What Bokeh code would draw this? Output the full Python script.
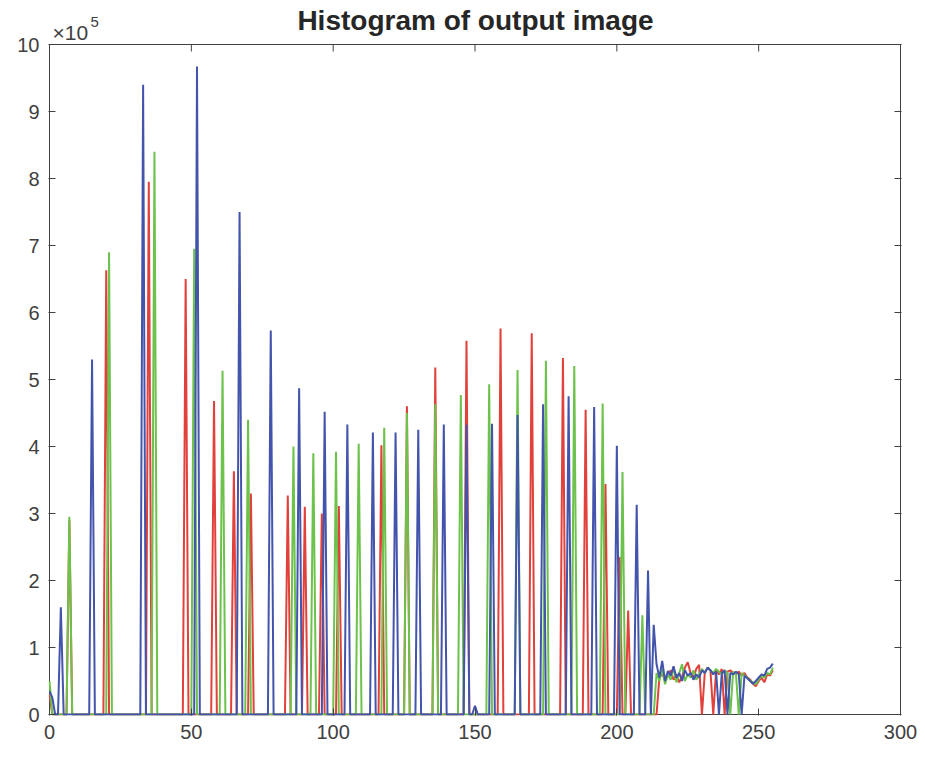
import numpy as np
from bokeh.plotting import figure
from bokeh.models import Range1d, LinearAxis, Label, FixedTicker
from bokeh.embed import file_html
from bokeh.resources import INLINE

# ---- data (counts in units of 1e5) ----
levels = list(range(256))

red_bins = [0, 7, 20, 35, 48, 58, 65, 71, 84, 90, 96, 102, 117, 126, 136, 147,
            159, 170, 181, 189, 196, 201, 204]
red_vals = [0.30, 2.90, 6.63, 7.95, 6.50, 4.68, 3.63, 3.30, 3.27, 3.10, 3.00, 3.11,
            4.02, 4.60, 5.18, 5.58, 5.76, 5.69, 5.32, 4.55, 3.44, 2.35, 1.55]
red_tail_start = 215
red_tail = [0.55, 0.62, 0.50, 0.58, 0.66, 0.52, 0.60, 0.48, 0.57, 0.70, 0.78, 0.62,
            0.55, 0.68, 0.74, 0.00, 0.62, 0.70, 0.65, 0.00, 0.66, 0.60, 0.68, 0.00,
            0.64, 0.66, 0.62, 0.60, 0.64, 0.58, 0.62, 0.55, 0.52, 0.46, 0.42, 0.50,
            0.55, 0.48, 0.60, 0.58, 0.66]

green_bins = [0, 7, 21, 37, 51, 61, 70, 86, 93, 101, 109, 118, 126, 136, 145, 155,
              165, 175, 185, 195, 202, 209]
green_vals = [0.50, 2.95, 6.90, 8.40, 6.95, 5.13, 4.40, 4.00, 3.90, 3.92, 4.04, 4.28,
              4.50, 4.63, 4.77, 4.93, 5.14, 5.28, 5.20, 4.64, 3.62, 1.48]
green_tail_start = 214
green_tail = [0.62, 0.50, 0.68, 0.45, 0.60, 0.52, 0.70, 0.48, 0.62, 0.75, 0.50, 0.60,
              0.55, 0.66, 0.52, 0.60, 0.68, 0.62, 0.70, 0.66, 0.62, 0.68, 0.64, 0.60,
              0.66, 0.62, 0.00, 0.64, 0.60, 0.00, 0.62, 0.58, 0.55, 0.50, 0.48, 0.45,
              0.52, 0.58, 0.55, 0.62, 0.60, 0.70]

blue_bins = [0, 1, 4, 15, 33, 52, 67, 78, 88, 97, 105, 114, 122, 130, 139, 147, 150,
             156, 165, 174, 183, 192, 200, 207, 211, 213]
blue_vals = [0.35, 0.25, 1.60, 5.30, 9.40, 9.67, 7.50, 5.73, 4.87, 4.52, 4.33, 4.21,
             4.21, 4.25, 4.33, 4.33, 0.13, 4.34, 4.47, 4.63, 4.75, 4.59, 4.01, 3.13,
             2.15, 1.34]
blue_tail_start = 214
blue_tail = [0.75, 0.55, 0.80, 0.50, 0.65, 0.58, 0.72, 0.55, 0.62, 0.50, 0.66, 0.58,
             0.62, 0.52, 0.60, 0.55, 0.66, 0.62, 0.70, 0.66, 0.60, 0.64, 0.00, 0.62,
             0.66, 0.00, 0.62, 0.60, 0.64, 0.60, 0.00, 0.58, 0.54, 0.50, 0.46, 0.50,
             0.55, 0.60, 0.58, 0.68, 0.70, 0.76]

x_ticks = [0, 50, 100, 150, 200, 250, 300]
y_ticks = [0, 1, 2, 3, 4, 5, 6, 7, 8, 9, 10]
title_text = "Histogram of output image"
exponent_text = "×10"
exponent_power = "5"


def build(bins, vals, tail_start, tail):
    h = np.zeros(len(levels))
    h[bins] = vals
    h[tail_start:tail_start + len(tail)] = tail
    return h


red_h = build(red_bins, red_vals, red_tail_start, red_tail)
green_h = build(green_bins, green_vals, green_tail_start, green_tail)
blue_h = build(blue_bins, blue_vals, blue_tail_start, blue_tail)

FONT = "Liberation Sans"
GREY = "#404040"

# ---- layout: the frame reaches the top of the canvas so that the title
# texts (Labels) are not clipped; the visible box is drawn at the axis limits.
BOX_W, BOX_H = 851, 670          # pixel size of the axes box
TOP_GAP = 44                     # pixels above the box
x_lo, x_hi = x_ticks[0], x_ticks[-1]
y_lo, y_hi = y_ticks[0], y_ticks[-1]
x_pad = (x_hi - x_lo) / BOX_W                 # one pixel in x units
y_px = BOX_H / (y_hi - y_lo)                  # pixels per y unit
y_pad = 1.0 / y_px
y_top = y_hi + TOP_GAP / y_px

p = figure(width=925, height=759, output_backend="svg", toolbar_location=None,
           x_range=Range1d(x_lo - x_pad, x_hi + x_pad),
           y_range=Range1d(y_lo - y_pad, y_top),
           min_border_left=48, min_border_right=24, min_border_top=0,
           min_border_bottom=44)
p.grid.visible = False
p.outline_line_color = None
p.background_fill_color = "white"
p.border_fill_color = "white"

# axes box and inward ticks on the top edge
p.quad(left=[x_lo], right=[x_hi], bottom=[y_lo], top=[y_hi],
       fill_color=None, line_color=GREY, line_width=1)
tick_len = 7 / y_px
p.segment(x0=x_ticks, y0=[y_hi] * len(x_ticks), x1=x_ticks,
          y1=[y_hi - tick_len] * len(x_ticks), line_color=GREY, line_width=1)

p.line(levels, red_h, line_color="#e2403a", line_width=2)
p.line(levels, green_h, line_color="#6cc24a", line_width=2)
p.line(levels, blue_h, line_color="#4254ab", line_width=2)

p.xaxis.ticker = FixedTicker(ticks=x_ticks)
p.yaxis.ticker = FixedTicker(ticks=y_ticks)
for ax in [p.xaxis[0], p.yaxis[0]]:
    ax.axis_line_color = None
    ax.major_tick_line_color = GREY
    ax.major_tick_in = 7
    ax.major_tick_out = 0
    ax.minor_tick_line_color = None
    ax.major_label_text_font = FONT
    ax.major_label_text_font_size = "20px"
    ax.major_label_text_color = GREY
    ax.major_label_standoff = 9

right_ax = LinearAxis(ticker=FixedTicker(ticks=y_ticks))
right_ax.axis_line_color = None
right_ax.major_tick_line_color = GREY
right_ax.major_tick_in = 7
right_ax.major_tick_out = 0
right_ax.minor_tick_line_color = None
right_ax.major_label_text_font_size = "1px"
right_ax.major_label_text_color = None
right_ax.major_label_standoff = 0
p.add_layout(right_ax, "right")

# texts above the box (canvas units: measured from the top-left corner)
p.add_layout(Label(x=475, y=20, x_units="canvas", y_units="canvas", text=title_text,
                   text_font=FONT, text_font_size="28px", text_font_style="bold",
                   text_color="#262626", text_align="center",
                   text_baseline="middle"))
p.add_layout(Label(x=52, y=32, x_units="canvas", y_units="canvas", text=exponent_text,
                   text_font=FONT, text_font_size="21px", text_color=GREY,
                   text_baseline="alphabetic"))
p.add_layout(Label(x=90, y=21, x_units="canvas", y_units="canvas",
                   text=exponent_power, text_font=FONT, text_font_size="15px",
                   text_color=GREY, text_baseline="alphabetic"))

open("out.html", "w").write(file_html(p, INLINE))
